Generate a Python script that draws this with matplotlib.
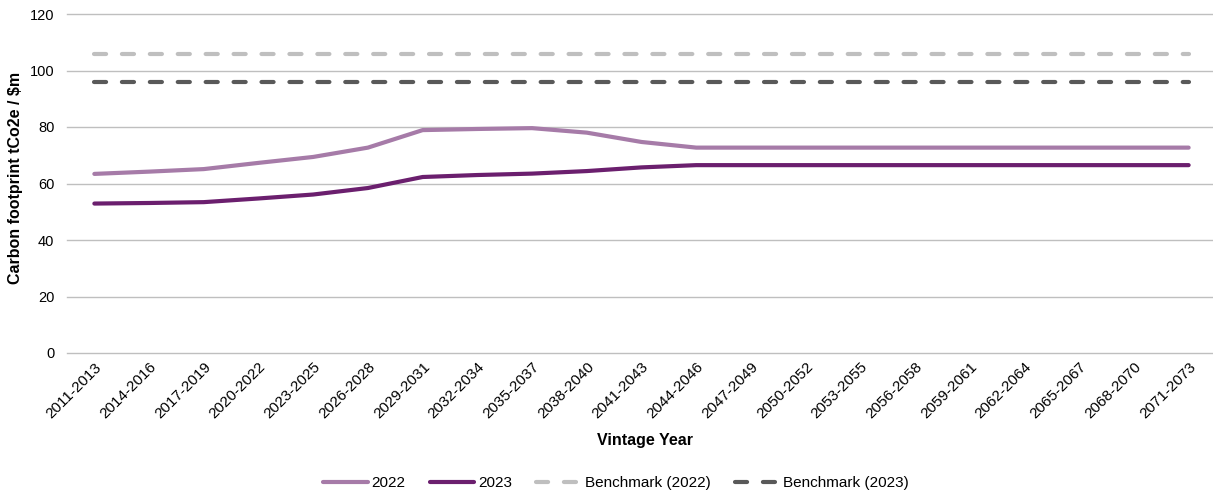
import matplotlib
matplotlib.use("Agg")
import matplotlib.pyplot as plt

plt.rcParams['font.family'] = ['Liberation Sans', 'DejaVu Sans']

categories = ["2011-2013", "2014-2016", "2017-2019", "2020-2022", "2023-2025", "2026-2028",
              "2029-2031", "2032-2034", "2035-2037", "2038-2040", "2041-2043", "2044-2046",
              "2047-2049", "2050-2052", "2053-2055", "2056-2058", "2059-2061", "2062-2064",
              "2065-2067", "2068-2070", "2071-2073"]
series_2022 = [63.4, 64.2, 65.1, 67.3, 69.4, 72.7, 78.9, 79.3, 79.6, 78.0, 74.7, 72.7,
               72.7, 72.7, 72.7, 72.7, 72.7, 72.7, 72.7, 72.7, 72.7]
series_2023 = [52.9, 53.1, 53.4, 54.7, 56.1, 58.4, 62.3, 63.0, 63.5, 64.4, 65.7, 66.5,
               66.5, 66.5, 66.5, 66.5, 66.5, 66.5, 66.5, 66.5, 66.5]
benchmark_2022 = [105.8] * len(categories)
benchmark_2023 = [96.1] * len(categories)
y_ticks = [0, 20, 40, 60, 80, 100, 120]

fig = plt.figure(figsize=(12.13, 4.97), dpi=100)
ax = fig.add_axes([67/1213, 144/497, (1216-67)/1213, (353-14)/497])

x = list(range(len(categories)))
ax.plot(x, series_2022, color="#A67BA8", lw=3.0, solid_capstyle="round", label="2022", zorder=3)
ax.plot(x, series_2023, color="#6B1F6E", lw=3.0, solid_capstyle="round", label="2023", zorder=3)
ax.plot(x, benchmark_2022, color="#BFBFBF", lw=3.0, dashes=(2.9, 3.8), dash_capstyle="round",
        label="Benchmark (2022)", zorder=2)
ax.plot(x, benchmark_2023, color="#595959", lw=3.0, dashes=(2.9, 3.8), dash_capstyle="round",
        label="Benchmark (2023)", zorder=2)

ax.set_xlim(-0.5, len(categories) - 0.5)
ax.set_ylim(0, 120)
ax.set_yticks(y_ticks)
ax.set_xticks(x)
ax.set_xticklabels(categories, rotation=45, ha="right", rotation_mode="anchor", fontsize=11, color="#000000")
ax.tick_params(axis="y", labelsize=10.5, length=0, pad=9)
ax.tick_params(axis="x", length=0, pad=5)
ax.grid(axis="y", color="#BFBFBF", lw=1.0)
for gl in ax.get_ygridlines():
    gl.set_clip_on(False)
ax.set_axisbelow(True)
for s in ax.spines.values():
    s.set_visible(False)

fig.text(16/1213, 1 - 178/497, "Carbon footprint tCo2e / $m", fontsize=11.5, fontweight="bold",
         rotation=90, ha="center", va="center")
fig.text(645/1213, 1 - 440/497, "Vintage Year", fontsize=11.5, fontweight="bold",
         ha="center", va="center")

leg = fig.legend(loc="center", bbox_to_anchor=(616/1213, 1 - 483/497), ncol=4, frameon=False,
                 fontsize=11, handlelength=2.9, columnspacing=1.6, handletextpad=0.25)

fig.savefig("out.png", dpi=100)
